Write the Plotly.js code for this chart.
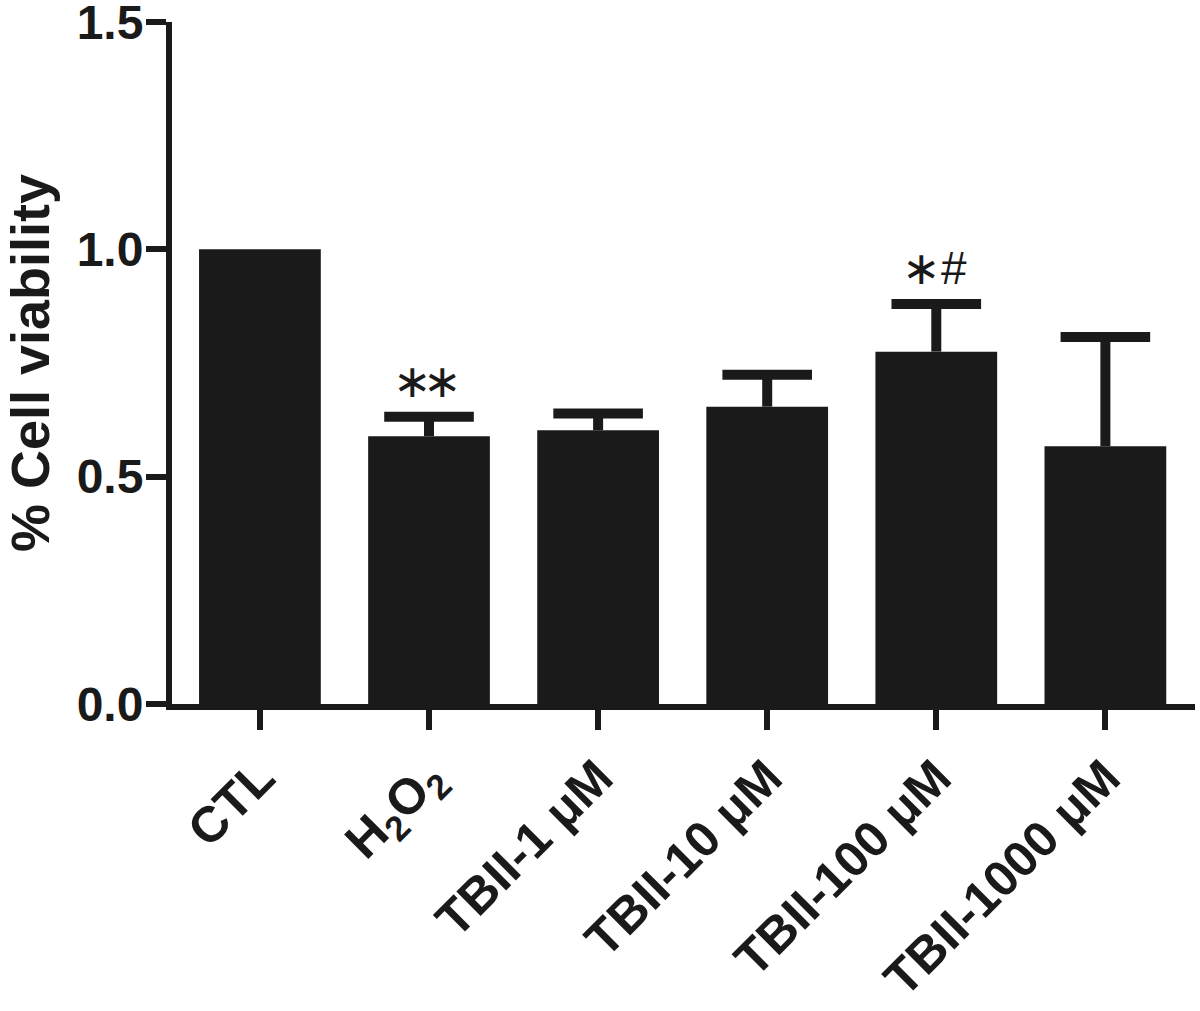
<!DOCTYPE html>
<html>
<head>
<meta charset="utf-8">
<script src="https://cdn.plot.ly/plotly-3.0.1.min.js"></script>
<style>html,body{margin:0;padding:0;background:#fff;}#chart{width:1200px;height:1011px;}</style>
</head>
<body>
<div id="chart"></div>
<script>
const categories = ["CTL", "H<sub>2</sub>O<sub>2</sub>", "TBII-1 μM", "TBII-10 μM", "TBII-100 μM", "TBII-1000 μM"];
const viability = [1.0, 0.589, 0.602, 0.654, 0.775, 0.567];
const errorUp = [0, 0.043, 0.037, 0.070, 0.105, 0.240];
const significance = ["", "∗∗", "", "", "∗#", ""];
const yTicks = [0, 0.5, 1.0, 1.5];
const yTitle = "% Cell viability";

const ink = "#1a1a1a";
const font = "Liberation Sans, Arial, sans-serif";

const bars = {
  type: "bar",
  x: categories,
  y: viability,
  width: 0.72,
  marker: { color: ink, line: { width: 0 } },
  error_y: {
    type: "data",
    symmetric: false,
    array: errorUp,
    arrayminus: errorUp.map(() => 0),
    color: ink,
    thickness: 10,
    width: 0,
    visible: true
  },
  hoverinfo: "none"
};

const caps = {
  type: "scatter",
  mode: "markers",
  x: categories,
  y: viability.map((v, i) => errorUp[i] > 0 ? v + errorUp[i] : null),
  marker: { symbol: "line-ew", size: 64, color: ink, line: { color: ink, width: 10 } },
  cliponaxis: false,
  hoverinfo: "none"
};

const sigAnnotations = [];
significance.forEach((t, i) => {
  if (!t) return;
  sigAnnotations.push({
    x: categories[i],
    y: viability[i] + errorUp[i],
    xref: "x", yref: "y",
    text: t.replace(/∗(?=∗)/g, '<span style="letter-spacing:-9px">∗</span>'),
    showarrow: false,
    yanchor: "bottom",
    yshift: 8,
    xshift: -2,
    font: { family: font, size: 46, color: ink }
  });
});

const titleAnnotation = {
  xref: "paper", yref: "paper",
  x: 0, y: 0.5,
  xanchor: "center", yanchor: "middle",
  xshift: -142,
  textangle: -90,
  text: yTitle,
  showarrow: false,
  font: { family: font, size: 54, color: ink, weight: "bold" }
};

const layout = {
  width: 1200, height: 1011,
  margin: { l: 172, r: 5, t: 22, b: 307 },
  paper_bgcolor: "#fff", plot_bgcolor: "#fff",
  showlegend: false,
  xaxis: {
    type: "category",
    range: [-0.52, 5.53],
    showline: true, linecolor: ink, linewidth: 6,
    ticks: "outside", ticklen: 20, tickwidth: 6, tickcolor: ink,
    tickangle: -45,
    ticklabelstandoff: -2,
    tickfont: { family: font, size: 50, color: ink, weight: "bold" },
    showgrid: false, zeroline: false
  },
  yaxis: {
    range: [0, 1.5],
    tickvals: yTicks,
    tickformat: ".1f",
    showline: true, linecolor: ink, linewidth: 6,
    ticks: "outside", ticklen: 20, tickwidth: 6, tickcolor: ink,
    ticklabeloverflow: "allow",
    ticklabelstandoff: -7,
    tickfont: { family: font, size: 48, color: ink, weight: "bold" },
    showgrid: false, zeroline: false
  },
  annotations: [titleAnnotation, ...sigAnnotations]
};

Plotly.newPlot("chart", [bars, caps], layout, { staticPlot: true, displayModeBar: false });
</script>
</body>
</html>
